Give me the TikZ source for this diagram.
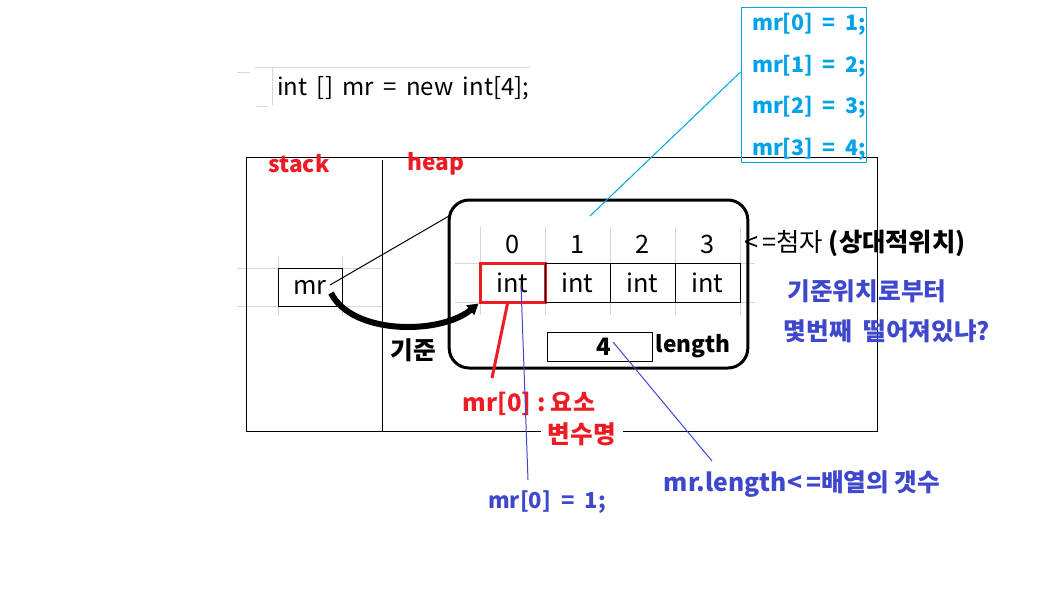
\documentclass[tikz,border=0pt]{standalone}
\usepackage{fontspec}
\setmainfont{Noto Sans CJK KR}
\usetikzlibrary{arrows.meta}
\definecolor{pred}{RGB}{237,28,36}
\definecolor{pblue}{RGB}{63,72,204}
\definecolor{pcyan}{RGB}{0,162,232}
\definecolor{xlgrid}{RGB}{208,215,229}
\newcommand{\wsp}{\ \hspace{3pt}}
\begin{document}
\begin{tikzpicture}[x=0.75pt,y=-0.75pt,
	grid/.style={draw=xlgrid, line width=0.75pt},
	cell/.style={draw, minimum width=48.75pt, minimum height=29.25pt, inner sep=0pt, font=\fontsize{19}{21}\selectfont},
	idx/.style={font=\fontsize{19}{21}\selectfont},
	lbl/.style={font=\bfseries\fontsize{18.5}{20}\selectfont, inner sep=1pt},
	sml/.style={font=\bfseries\fontsize{17}{19}\selectfont, inner sep=1pt},
	cyl/.style={font=\bfseries\fontsize{16}{18}\selectfont, inner sep=1pt, text=pcyan}]
	\useasboundingbox (0,0) rectangle (1046,611);
	\draw[grid] (255,67) -- (530,67);
	\draw[grid] (272,67) -- (272,105);
	\draw[grid] (237,72) -- (250,72);
	\draw[grid] (257,106) -- (268,106);
	\draw[grid] (237,268) -- (382,268);
	\draw[grid] (237,306) -- (382,306);
	\draw[grid] (278,256) -- (278,316);
	\draw[grid] (342,256) -- (342,316);
	\foreach \x in {480,545,610,675,740}
		\draw[grid] (\x,227) -- (\x,315);
	\draw[grid] (455,263) -- (755,263);
	\draw[grid] (455,302) -- (755,302);
	\draw[line width=0.75pt] (246,157) rectangle (877,431);
	\draw[line width=0.75pt] (382,160) -- (382,431);
	\node (code) at (277,88) [anchor=west, idx, font=\fontsize{18}{20}\selectfont, inner sep=0pt] {int\wsp[]\wsp mr\wsp=\wsp new\wsp int[4];};
	\node (stk) at (299,164) [sml, text=pred] {stack};
	\node (hp)  at (436,164) [sml, text=pred] {heap};
	\node (MR)  at (310,287) [cell, minimum width=48pt, minimum height=28.5pt] {mr};
	\node (HB)  at (598.5,284) [draw, line width=2.25pt, rounded corners=15pt, minimum width=224pt, minimum height=126pt] {};
	\node (C0) at (512.5,282.5) [cell, draw=pred, line width=2.25pt] {int};
	\node (C1) at (577.5,282.5) [cell] {int};
	\node (C2) at (642.5,282.5) [cell] {int};
	\node (C3) at (707.5,282.5) [cell] {int};
	\foreach \i/\x in {0/512.5,1/577.5,2/642.5,3/707.5}
		\node (I\i) at (\x,244) [idx] {\i};
	\node (LEN) at (599.5,346.5) [draw, minimum width=78.75pt, minimum height=21.75pt, inner sep=0pt, font=\bfseries\fontsize{18}{20}\selectfont] {\hspace{6pt}4};
	\node (LT)  at (693,346) [sml] {length};
	\node (GJ)  at (413,350) [lbl] {기준};
	\node (SUB) at (744,243) [anchor=west, idx, inner sep=0pt] {<\,=첨자 \textbf{(상대적위치)}};
	\node (D1)  at (867,291) [lbl, text=pblue] {기준위치로부터};
	\node (D2)  at (887,331) [lbl, text=pblue] {몇번째\ \ 떨어져있냐?};
	\node (E1)  at (529,404) [lbl, font=\bfseries\fontsize{18}{20}\selectfont, text=pred] {mr[0]\ :\ 요소};
	\node (E2)  at (582,434) [lbl, text=pred, fill=white, inner xsep=5pt] {변수명};
	\node (V1)  at (547,502) [cyl, font=\bfseries\fontsize{16.5}{18}\selectfont, text=pblue] {mr[0]\ \ =\ \ 1;};
	\node (ML)  at (802,484) [lbl, text=pblue] {mr.length<\,=배열의\ 갯수};
	\node (CY)  at (803.5,85) [draw=pcyan, line width=0.75pt, minimum width=93.75pt, minimum height=116.25pt] {};
	\node (A0)  at (809,24)  [cyl] {mr[0]\ \ =\ \ 1;};
	\node (A1)  at (809,66)  [cyl] {mr[1]\ \ =\ \ 2;};
	\node (A2)  at (809,107) [cyl] {mr[2]\ \ =\ \ 3;};
	\node (A3)  at (809,149) [cyl] {mr[3]\ \ =\ \ 4;};
	\coordinate (P1) at (330,285);
	\coordinate (P2) at (449,216);
	\coordinate (P3) at (331,293);
	\coordinate (P4) at (492,378);
	\coordinate (P5) at (521,285);
	\coordinate (P6) at (528,480);
	\coordinate (P7) at (613,342);
	\coordinate (P8) at (712,461);
	\coordinate (P9) at (590,216);
	\draw[line width=0.75pt] (P1) -- (P2);
	\draw[line width=4.5pt, -{Triangle[length=8pt, width=9pt]}] (P3) .. controls (352,335) and (440,335) .. (C0.south west);
	\draw[pred, line width=2.25pt] (C0.south) ++(-5,0) -- (P4);
	\draw[pblue, line width=0.75pt] (P5) -- (P6);
	\draw[pblue, line width=0.75pt] (P7) -- (P8);
	\draw[pcyan, line width=0.75pt] (CY.west |- 0,72) -- (P9);
\end{tikzpicture}
\end{document}
